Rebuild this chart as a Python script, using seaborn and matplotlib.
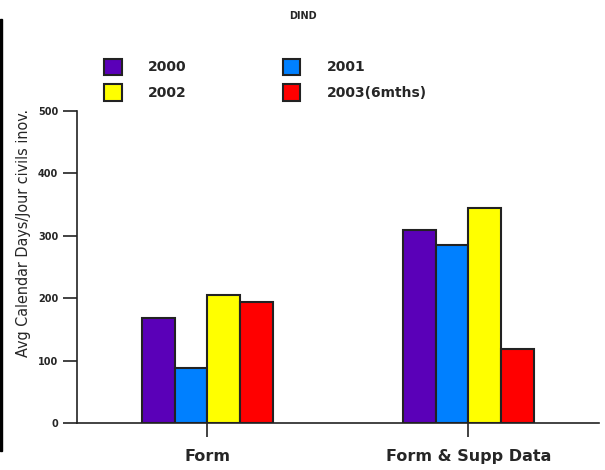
import pandas as pd
import seaborn as sns
import matplotlib.pyplot as plt
from matplotlib.patches import Rectangle

# values
categories = ["Form", "Form & Supp Data"]
years = ["2000", "2001", "2002", "2003(6mths)"]
vals_2000 = [168, 309]
vals_2001 = [88, 285]
vals_2002 = [205, 345]
vals_2003 = [194, 119]
colors = ["#5A00B8", "#0080FF", "#FFFF00", "#FF0000"]
yticks = [0, 100, 200, 300, 400, 500]

rows = []
for year, vals in zip(years, [vals_2000, vals_2001, vals_2002, vals_2003]):
    for cat, v in zip(categories, vals):
        rows.append({"category": cat, "year": year, "days": v})
df = pd.DataFrame(rows)

sns.set_style("white")
plt.rcParams["font.family"] = ["DejaVu Sans"]

fig = plt.figure(figsize=(6.05, 4.7), dpi=100)
ax = fig.add_axes([0.1273, 0.1, 0.8627, 0.6638])

sns.barplot(data=df, x="category", y="days", hue="year", hue_order=years,
            palette=colors, width=0.5, edgecolor="#222222", linewidth=1.5,
            saturation=1, ax=ax, legend=True)

ax.set_xlim(-0.5, 1.5)
ax.set_ylim(0, 500)
ax.set_yticks(yticks)
ax.set_yticklabels([str(t) for t in yticks], fontsize=7, fontweight="bold")
ax.set_xticks(range(len(categories)))
ax.set_xticklabels(categories, fontsize=11.5, fontweight="bold")
ax.tick_params(axis="both", direction="out", length=10, width=1.2,
               color="#222222", bottom=True, left=True)
ax.tick_params(axis="x", pad=9)
ax.set_xlabel("")
ax.set_ylabel("Avg Calendar Days/Jour civils inov.", fontsize=11.5,
              fontstretch="condensed")
ax.yaxis.set_label_coords(-0.088, 0.61)

for s in ["top", "right"]:
    ax.spines[s].set_visible(False)
for s in ["left", "bottom"]:
    ax.spines[s].set_color("#222222")
    ax.spines[s].set_linewidth(1.2)

# legend in two columns above the plot
handles, labels = ax.get_legend_handles_labels()
ax.get_legend().remove()
order = [0, 2, 1, 3]
fig.legend([handles[i] for i in order], [labels[i] for i in order],
           ncol=2, loc="upper left", bbox_to_anchor=(0.152, 0.902),
           frameon=False, prop={"weight": "bold", "size": 10},
           handlelength=1.25, handleheight=1.45, handletextpad=1.9,
           columnspacing=6.9, labelspacing=0.65)

fig.text(0.5, 0.965, "DIND", ha="center", va="center", fontsize=7,
         fontweight="bold")

# black strip on the left edge
fig.add_artist(Rectangle((0, 0.04), 0.004, 0.92, transform=fig.transFigure,
                         color="black"))

fig.savefig("out.png", dpi=100)
